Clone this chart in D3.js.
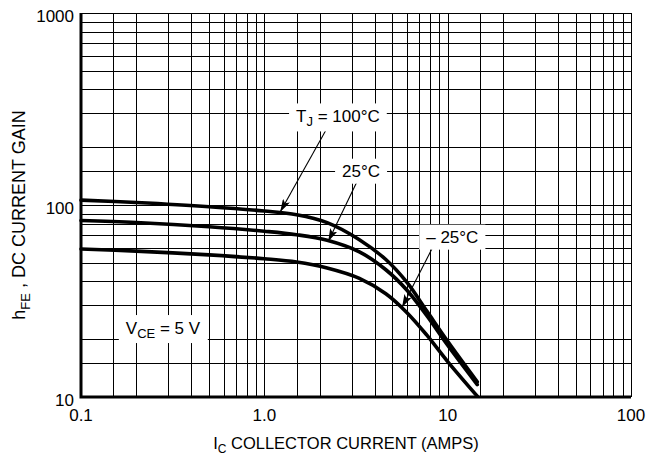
<!DOCTYPE html>
<html lang="en">
<head>
    <meta charset="UTF-8">
    <title>DC Current Gain</title>
    <script src="https://d3js.org/d3.v7.min.js"></script>
    <style>
        body {
            margin: 0;
            padding: 0;
            background: #fff;
        }

        svg {
            display: block;
            font-family: "Liberation Sans", Arial, Helvetica, sans-serif;
        }

        .grid {
            stroke: #000;
            stroke-width: 1.2px;
            shape-rendering: crispEdges;
        }

        .frame {
            stroke: #000;
            stroke-width: 3px;
            fill: none;
        }

        .curve {
            fill: none;
            stroke: #000;
            stroke-width: 3.6px;
            stroke-linecap: round;
            stroke-linejoin: round;
        }

        .pointer {
            stroke: #000;
            stroke-width: 1.1px;
            marker-end: url(#tip);
        }

        .tick-label {
            font-size: 17px;
            fill: #000;
        }

        .note {
            font-size: 17px;
            fill: #000;
            text-anchor: middle;
            dominant-baseline: central;
        }

        .axis-title {
            font-size: 16.5px;
            fill: #000;
            text-anchor: middle;
        }
    </style>
</head>
<body>
    <script>
        // Ic (amps) sample points, shared by the three curves
        const currentAmps = [0.1, 0.2, 0.5, 1.0, 1.5, 2.2, 3.3, 4.6, 6.0, 7.7, 10, 14.5];
        const gain100C = [106, 103, 98, 93, 89, 81, 66, 52, 39.5, 28, 19.5, 12.0];
        const gain25C = [83, 81, 77, 73, 70, 65.5, 57, 46, 36, 26.5, 18.6, 11.6];
        const gainMinus25C = [59, 57.5, 55, 52.5, 50.5, 47, 41.5, 34.5, 27.5, 21, 15.3, 10.1];

        const xTicks = [0.1, 1, 10, 100];
        const xTickLabels = ["0.1", "1.0", "10", "100"];
        const yTicks = [10, 100, 1000];
        const yTickLabels = ["10", "100", "1000"];
        const gridSteps = [1, 1.5, 2, 3, 4, 5, 6, 7, 8, 9];

        const width = 646, height = 455;
        const margin = { top: 13, right: 15, bottom: 58, left: 81 };

        const svg = d3.select("body").append("svg")
            .attr("width", width)
            .attr("height", height);

        const x = d3.scaleLog()
            .domain([0.1, 100])
            .range([margin.left, width - margin.right]);

        const y = d3.scaleLog()
            .domain([10, 1000])
            .range([height - margin.bottom, margin.top]);

        // graph paper lines
        const decadeValues = (lo, hi) => {
            const out = [];
            for (let d = lo; d < hi; d *= 10) {
                gridSteps.forEach(s => out.push(+(d * s).toPrecision(3)));
            }
            out.push(hi);
            return out;
        };

        const xGrid = decadeValues(0.1, 100);
        const yGrid = decadeValues(10, 1000);

        const gridLayer = svg.append("g");

        gridLayer.selectAll(".vgrid")
            .data(xGrid)
            .enter()
            .append("line")
            .attr("class", "grid vgrid")
            .attr("x1", d => Math.round(x(d)) + 0.5)
            .attr("x2", d => Math.round(x(d)) + 0.5)
            .attr("y1", y(1000))
            .attr("y2", y(10));

        gridLayer.selectAll(".hgrid")
            .data(yGrid)
            .enter()
            .append("line")
            .attr("class", "grid hgrid")
            .attr("x1", x(0.1))
            .attr("x2", x(100))
            .attr("y1", d => Math.round(y(d)) + 0.5)
            .attr("y2", d => Math.round(y(d)) + 0.5);

        // heavy left and bottom axes
        svg.append("path")
            .attr("class", "frame")
            .attr("d", `M${x(0.1)},${y(1000)} L${x(0.1)},${y(10)} L${x(100)},${y(10)}`);

        // arrow marker
        svg.append("defs").append("marker")
            .attr("id", "tip")
            .attr("viewBox", "0 0 13 8")
            .attr("refX", 13)
            .attr("refY", 4)
            .attr("markerWidth", 13)
            .attr("markerHeight", 8)
            .attr("markerUnits", "userSpaceOnUse")
            .attr("orient", "auto")
            .append("path")
            .attr("d", "M0,0 L13,4 L0,8 L3,4 Z")
            .attr("fill", "#000");

        // curves
        const series = [gain100C, gain25C, gainMinus25C];
        const line = d3.line()
            .x(d => x(d[0]))
            .y(d => y(d[1]))
            .curve(d3.curveCatmullRom.alpha(0.5));

        svg.selectAll(".curve")
            .data(series)
            .enter()
            .append("path")
            .attr("class", "curve")
            .attr("d", s => line(currentAmps.map((c, i) => [c, s[i]])));

        // annotation labels (positions in data units)
        const notes = [
            { at: [2.52, 291], parts: [["T", 0], ["J", 1], [" = 100°C", 0]] },
            { at: [3.37, 150], parts: [["25°C", 0]] },
            { at: [10.6, 68], parts: [["– 25°C", 0]] },
            { at: [0.28, 23], parts: [["V", 0], ["CE", 1], [" = 5 V", 0]] }
        ];

        const pointers = [
            { from: [2.17, 246], to: [1.22, 92] },
            { from: [3.2, 132], to: [2.23, 64.5] },
            { from: [8.2, 59], to: [5.64, 29.3] }
        ];

        svg.selectAll(".pointer")
            .data(pointers)
            .enter()
            .append("line")
            .attr("class", "pointer")
            .attr("x1", d => x(d.from[0]))
            .attr("y1", d => y(d.from[1]))
            .attr("x2", d => x(d.to[0]))
            .attr("y2", d => y(d.to[1]));

        const noteGroups = svg.selectAll(".note-g")
            .data(notes)
            .enter()
            .append("g")
            .attr("class", "note-g");

        const noteText = noteGroups.append("text")
            .attr("class", "note")
            .attr("x", d => x(d.at[0]))
            .attr("y", d => y(d.at[1]));

        noteText.each(function (d) {
            const t = d3.select(this);
            let sub = false;
            d.parts.forEach(([str, isSub]) => {
                const span = t.append("tspan").text(str);
                if (isSub && !sub) {
                    span.attr("dy", 5).attr("font-size", "13px");
                    sub = true;
                } else if (!isSub && sub) {
                    span.attr("dy", -5);
                    sub = false;
                }
            });
        });

        noteGroups.each(function () {
            const g = d3.select(this);
            const bb = g.select("text").node().getBBox();
            g.insert("rect", "text")
                .attr("x", bb.x - 7)
                .attr("y", bb.y - 3)
                .attr("width", bb.width + 14)
                .attr("height", bb.height + 6)
                .attr("fill", "#fff");
        });

        // tick labels
        svg.selectAll(".xlab")
            .data(xTicks)
            .enter()
            .append("text")
            .attr("class", "tick-label xlab")
            .attr("x", d => x(d))
            .attr("y", y(10) + 24)
            .attr("text-anchor", "middle")
            .text((d, i) => xTickLabels[i]);

        svg.selectAll(".ylab")
            .data(yTicks)
            .enter()
            .append("text")
            .attr("class", "tick-label ylab")
            .attr("x", x(0.1) - 7)
            .attr("y", d => y(d) + 9)
            .attr("text-anchor", "end")
            .text((d, i) => yTickLabels[i]);

        // axis titles
        const xTitle = svg.append("text")
            .attr("class", "axis-title")
            .attr("x", (x(0.1) + x(100)) / 2 - 10)
            .attr("y", height - 6);
        xTitle.append("tspan").text("I");
        xTitle.append("tspan").attr("dy", 4).attr("font-size", "12px").text("C");
        xTitle.append("tspan").attr("dy", -4).text(" COLLECTOR CURRENT (AMPS)");

        const yTitle = svg.append("text")
            .attr("class", "axis-title")
            .style("font-size", "18px")
            .attr("transform", `translate(25,${(y(10) + y(1000)) / 2 + 10}) rotate(-90)`);
        yTitle.append("tspan").text("h");
        yTitle.append("tspan").attr("dy", 5).attr("font-size", "13px").text("FE");
        yTitle.append("tspan").attr("dy", -5).text(" , DC CURRENT GAIN");
    </script>
</body>
</html>
